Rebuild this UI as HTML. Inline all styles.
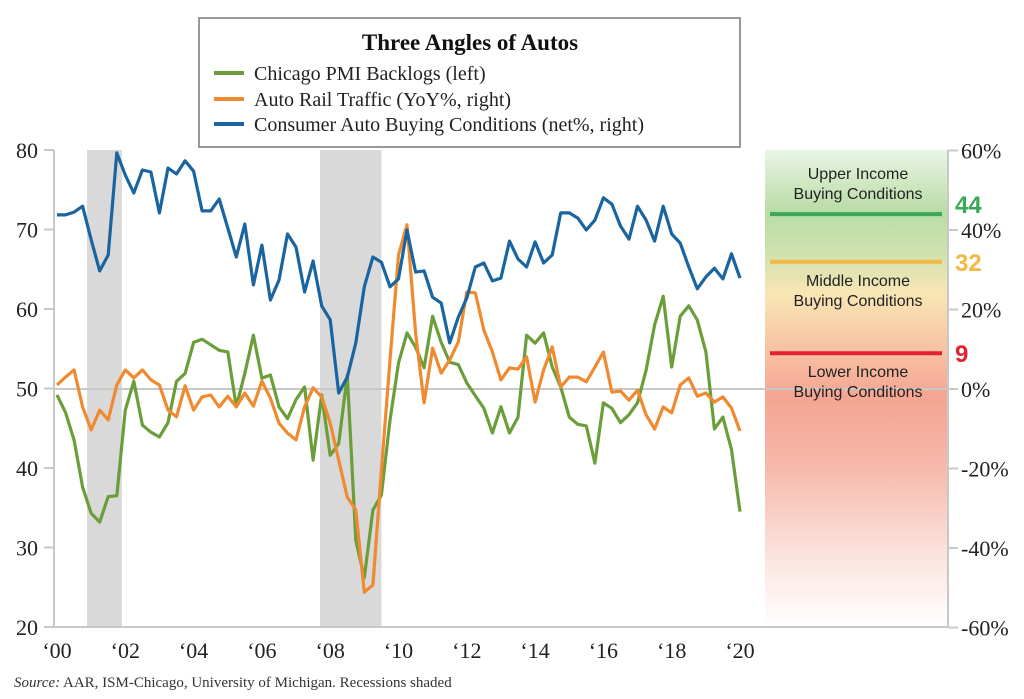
<!DOCTYPE html>
<html><head><meta charset="utf-8">
<style>
html,body{margin:0;padding:0;background:#fff;}
svg{display:block;}
.serif{font-family:"Liberation Serif","DejaVu Serif",serif;}
.sans{font-family:"Liberation Sans","DejaVu Sans",sans-serif;}
</style></head>
<body>
<svg id="chart" width="1024" height="699" viewBox="0 0 1024 699" xmlns="http://www.w3.org/2000/svg">
<defs>
<linearGradient id="panelGrad" x1="0" y1="0" x2="0" y2="1">
<stop offset="0" stop-color="#e9f5e3"/>
<stop offset="0.13" stop-color="#b9dca6"/>
<stop offset="0.22" stop-color="#cfe2b0"/>
<stop offset="0.3" stop-color="#f8e6b4"/>
<stop offset="0.4" stop-color="#f9c8a6"/>
<stop offset="0.52" stop-color="#f4a593"/>
<stop offset="0.65" stop-color="#f6b6a8"/>
<stop offset="0.85" stop-color="#fbe3dd"/>
<stop offset="1" stop-color="#ffffff"/>
</linearGradient>
</defs>
<g id="plot"></g>
</svg>
<script>
const quartersStart = 2000;
const pmiBacklogs = [49.2,47.0,43.5,37.6,34.3,33.2,36.4,36.5,47.3,50.9,45.4,44.5,43.9,45.7,50.9,51.9,55.8,56.2,55.5,54.8,54.6,47.7,51.9,56.7,51.3,51.7,47.7,46.2,48.6,50.2,41.0,49.2,41.6,43.1,51.7,30.9,26.2,34.7,36.6,46.0,53.2,57.0,55.2,52.6,59.1,55.8,53.3,53.0,50.7,49.1,47.5,44.4,47.7,44.4,46.4,56.7,55.7,57.0,52.7,50.2,46.4,45.5,45.3,40.6,48.2,47.5,45.7,46.7,48.2,52.3,58.0,61.6,52.7,59.1,60.4,58.6,54.6,44.9,46.4,42.3,34.5];
const railTraffic = [1.0,3.0,4.8,-4.5,-10.3,-5.3,-7.8,1.0,4.8,2.8,4.8,2.3,1.0,-5.3,-7.0,0.8,-5.3,-2.0,-1.5,-4.5,-1.8,-4.5,-1.0,-4.3,2.0,-2.3,-8.6,-11.1,-12.8,-4.5,0.3,-2.0,-8.6,-17.9,-27.2,-30.4,-51.1,-49.3,-20.4,7.3,33.7,41.3,14.1,-3.5,10.3,4.0,7.3,11.8,24.4,24.2,14.8,9.3,2.3,5.3,5.0,8.1,-3.3,4.8,10.6,0.5,3.0,3.0,1.8,5.5,9.3,-0.8,-0.5,-2.8,-0.3,-6.5,-10.1,-4.5,-6.0,1.0,2.8,-1.8,-1.0,-3.3,-2.0,-4.8,-10.6];
const buyingConditions = [43.8,43.8,44.5,46.0,37.5,29.7,33.7,59.4,53.8,49.3,55.1,54.6,44.3,55.6,54.1,57.4,54.8,44.8,44.8,47.8,40.5,33.2,41.5,26.2,36.2,22.4,27.4,39.0,35.7,24.4,32.2,20.9,17.4,-1.0,3.0,11.6,25.7,33.2,31.9,25.7,27.7,40.0,29.4,29.7,23.1,21.6,11.6,18.1,22.9,30.7,31.7,27.2,27.9,37.2,32.7,30.7,37.0,31.7,33.7,44.3,44.3,43.0,40.0,42.5,48.1,46.5,41.0,37.7,46.0,42.5,37.2,46.0,39.0,36.7,30.7,25.2,28.2,30.4,27.7,34.0,27.9];
const leftTicks = [20,30,40,50,60,70,80];
const rightTicks = [-60,-40,-20,0,20,40,60];
const yearTicks = [2000,2002,2004,2006,2008,2010,2012,2014,2016,2018,2020];
const yearLabels = ["‘00","‘02","‘04","‘06","‘08","‘10","‘12","‘14","‘16","‘18","‘20"];
const recessions = [[2000.88,2001.9],[2007.7,2009.5]];
const incomeLevels = [44,32,9];
const incomeLabels = ["44","32","9"];

const NS="http://www.w3.org/2000/svg";
const g=document.getElementById('plot');
const X=yr=>57+(yr-2000)*34.15;
const YL=v=>150+(80-v)*7.95;
const YR=v=>389-v*3.975;
function el(tag,attrs,parent){const e=document.createElementNS(NS,tag);for(const k in attrs)e.setAttribute(k,attrs[k]);(parent||g).appendChild(e);return e;}

recessions.forEach(r=>{
  const e=el('rect',{x:X(r[0]),y:150,width:X(r[1])-X(r[0]),height:477,fill:'#d9d9d9'});
  
  
});
const panel=el('rect',{x:765,y:150,width:183,height:477,fill:'url(#panelGrad)'});


const ax1=el('line',{x1:54,y1:150,x2:54,y2:627,stroke:'#c8c8c8','stroke-width':2});


const ax2=el('line',{x1:948,y1:150,x2:948,y2:627,stroke:'#c8c8c8','stroke-width':2});


const ax3=el('line',{x1:44,y1:627,x2:948,y2:627,stroke:'#c8c8c8','stroke-width':2});


const zl=el('line',{x1:54,y1:YR(0),x2:948,y2:YR(0),stroke:'#c8c8c8','stroke-width':2});



leftTicks.forEach(v=>{
  el('line',{x1:44,y1:YL(v),x2:54,y2:YL(v),stroke:'#c8c8c8','stroke-width':2});
  const t=el('text',{x:38,y:YL(v)+8,'text-anchor':'end','font-size':22,fill:'#222',class:'serif'});
  t.textContent=v;
  
  
});
rightTicks.forEach(v=>{
  el('line',{x1:948,y1:YR(v),x2:958,y2:YR(v),stroke:'#c8c8c8','stroke-width':2});
  const t=el('text',{x:961,y:YR(v)+8,'font-size':22,fill:'#222',class:'serif'});
  t.textContent=v+'%';
  
  
});
yearTicks.forEach((y,i)=>{
  const t=el('text',{x:X(y),y:658,'text-anchor':'middle','font-size':22,fill:'#222',class:'serif'});
  t.textContent=yearLabels[i];
  
  
});

const incColors=['#3aa856','#f4b942','#e3212f'];
const incOffsets=[-1,9,9];
incomeLevels.forEach((v,i)=>{
  const l=el('line',{x1:770,y1:YR(v),x2:942,y2:YR(v),stroke:incColors[i],'stroke-width':4});
  
  
  const t=el('text',{x:955,y:YR(v)+incOffsets[i],'font-size':24,'font-weight':'bold',fill:incColors[i],class:'sans'});
  t.textContent=incomeLabels[i];
  
  
});
[["Upper Income",179],["Buying Conditions",199],["Middle Income",286],["Buying Conditions",306],["Lower Income",377],["Buying Conditions",397]].forEach(p=>{
  const t=el('text',{x:858,y:p[1],'text-anchor':'middle','font-size':16,fill:'#222',class:'sans'});
  t.textContent=p[0];
  
  
});

function series(arr,yf,color,name){
  const pts=arr.map((v,i)=>X(quartersStart+i/4).toFixed(1)+','+yf(v).toFixed(1)).join(' ');
  const p=el('polyline',{points:pts,fill:'none',stroke:color,'stroke-width':3.2,'stroke-linejoin':'round'});
  
  
}
series(pmiBacklogs,YL,'#6b9e3a','pmi-backlogs-line');
series(railTraffic,YR,'#f08a30','rail-traffic-line');
series(buyingConditions,YR,'#1a65a0','buying-conditions-line');

const lg=el('g',{});


el('rect',{x:199,y:18,width:541,height:129,fill:'#fff',stroke:'#999','stroke-width':2},lg);
const tt=el('text',{x:470,y:50,'text-anchor':'middle','font-size':23,'font-weight':'bold',fill:'#111',class:'serif'},lg);
tt.textContent='Three Angles of Autos';


[['#6b9e3a','Chicago PMI Backlogs (left)',73],['#f08a30','Auto Rail Traffic (YoY%, right)',99],['#1a65a0','Consumer Auto Buying Conditions (net%, right)',124]].forEach(e=>{
  const l=el('line',{x1:214,y1:e[2],x2:244,y2:e[2],stroke:e[0],'stroke-width':4},lg);
  
  
  const t=el('text',{x:254,y:e[2]+7,'font-size':20,fill:'#222',class:'serif'},lg);
  t.textContent=e[1];
  
  
});
const src=el('text',{x:14,y:687,'font-size':15,fill:'#333',class:'serif'});


const it=el('tspan',{'font-style':'italic'},src);it.textContent='Source:';
const rs=el('tspan',{},src);rs.textContent=' AAR, ISM-Chicago, University of Michigan. Recessions shaded';
</script>
</body></html>
